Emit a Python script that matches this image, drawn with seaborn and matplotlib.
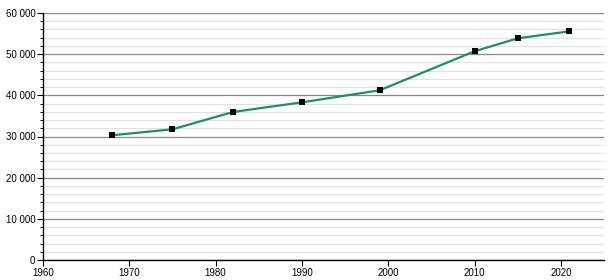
import matplotlib
matplotlib.use("Agg")
import matplotlib.pyplot as plt
import matplotlib.ticker as mticker
import seaborn as sns
import pandas as pd

years = [1968, 1975, 1982, 1990, 1999, 2010, 2015, 2021]
population = [30300, 31750, 35950, 38300, 41220, 50690, 53850, 55550]

sns.set_style("white")
plt.rcParams['font.family'] = ['Liberation Sans', 'DejaVu Sans']

df = pd.DataFrame({"year": years, "population": population})

fig = plt.figure(figsize=(6.15, 2.8), dpi=100)
ax = fig.add_axes([43/615, 20/280, (604-43)/615, (260-13)/280])

ax.set_ylim(0, 60000)
ax.set_xlim(1960, 2025)
ax.yaxis.set_major_locator(mticker.MultipleLocator(10000))
ax.yaxis.set_minor_locator(mticker.MultipleLocator(2000))
ax.xaxis.set_major_locator(mticker.MultipleLocator(10))
ax.yaxis.set_major_formatter(mticker.FuncFormatter(lambda v, p: f"{int(v):,}".replace(",", " ")))
ax.grid(which="major", axis="y", color="#888888", linewidth=0.9)
ax.grid(which="minor", axis="y", color="#e0e0e0", linewidth=0.9)
ax.set_axisbelow(True)

sns.lineplot(data=df, x="year", y="population", ax=ax, color="#1b8f6a",
             linewidth=1.6, zorder=3)
sns.scatterplot(data=df, x="year", y="population", ax=ax, color="black",
                marker="s", s=14, linewidth=0, zorder=4)

for s in ["top", "right"]:
    ax.spines[s].set_visible(False)
for s in ["left", "bottom"]:
    ax.spines[s].set_color("black")
    ax.spines[s].set_linewidth(1.0)

ax.tick_params(axis="both", which="major", direction="out", length=4, width=0.8,
               colors="black", labelsize=7, pad=1.5, left=True, bottom=True)
ax.tick_params(axis="y", which="minor", direction="out", length=2.5, width=0.7,
               colors="black", left=True)
ax.set_xlabel("")
ax.set_ylabel("")

fig.savefig("out.png", dpi=100)
